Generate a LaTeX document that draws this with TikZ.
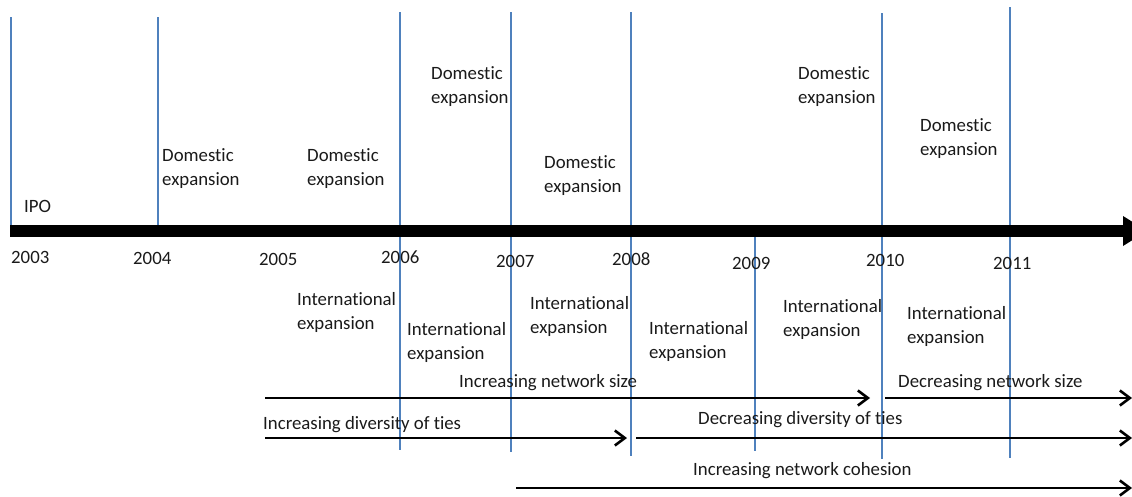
\documentclass[tikz,border=0pt]{standalone}
\usepackage{fontspec}
\setmainfont[Ligatures=NoCommon]{Carlito}
\usetikzlibrary{arrows.meta}
\definecolor{vline}{HTML}{4F81BD}
\definecolor{txt}{HTML}{1A1A1A}
\tikzset{
  lbl/.style={inner sep=0pt, anchor=west, align=left, text=txt, font=\fontsize{18.8}{24}\selectfont},
  yearlbl/.style={lbl},
  vl/.style={draw=vline, line width=1.1pt},
  trend/.style={draw=black, line width=2.6pt, -{Straight Barb[length=10pt,width=15pt,line width=2.6pt]}}
}
\begin{document}
\begin{tikzpicture}[x=1pt,y=-1pt]
\useasboundingbox (0,0) rectangle (1132,496);
\clip (0,0) rectangle (1132,496);
% vertical year lines
\coordinate (t03) at (11,17);   \coordinate (b03) at (11,232);
\coordinate (t04) at (158,17);  \coordinate (b04) at (158,232);
\coordinate (t06) at (400,12);  \coordinate (b06) at (400,450);
\coordinate (t07) at (511,12);  \coordinate (b07) at (511,452);
\coordinate (t08) at (631,12);  \coordinate (b08) at (631,456);
\coordinate (t09) at (755,234); \coordinate (b09) at (755,451);
\coordinate (t10) at (882,13);  \coordinate (b10) at (882,459);
\coordinate (t11) at (1010,7);  \coordinate (b11) at (1010,458);
\foreach \y in {03,04,06,07,08,09,10,11} {\draw[vl] (t\y) -- (b\y);}
% main axis
\coordinate (axs) at (10,231);
\coordinate (axe) at (1125,231);
\draw[line width=12.5pt, black] (axs) -- (axe);
\fill[black] (1123,216) -- (1147,231) -- (1123,246) -- cycle;
% years
\node[yearlbl] (y03) at (11,257) {2003};
\node[yearlbl] (y04) at (133,258) {2004};
\node[yearlbl] (y05) at (259,259) {2005};
\node[yearlbl] (y06) at (381,257) {2006};
\node[yearlbl] (y07) at (496,261) {2007};
\node[yearlbl] (y08) at (612,259) {2008};
\node[yearlbl] (y09) at (732,263) {2009};
\node[yearlbl] (y10) at (866,260) {2010};
\node[yearlbl] (y11) at (993,263) {2011};
% events above
\node[lbl] (ipo) at (24,206) {IPO};
\node[lbl] (d1) at (162,169) {Domestic\\expansion};
\node[lbl] (d2) at (307,169) {Domestic\\expansion};
\node[lbl] (d3) at (431,87)  {Domestic\\expansion};
\node[lbl] (d4) at (544,176) {Domestic\\expansion};
\node[lbl] (d5) at (798,87)  {Domestic\\expansion};
\node[lbl] (d6) at (920,139) {Domestic\\expansion};
% events below
\node[lbl] (i1) at (297,312) {International\\expansion};
\node[lbl] (i2) at (407,342) {International\\expansion};
\node[lbl] (i3) at (530,316) {International\\expansion};
\node[lbl] (i4) at (649,341) {International\\expansion};
\node[lbl] (i5) at (783,319) {International\\expansion};
\node[lbl] (i6) at (907,326) {International\\expansion};
% trends
\coordinate (ns1) at (265,398); \coordinate (ns2) at (870,398);
\coordinate (ns3) at (885,398); \coordinate (ns4) at (1132,398);
\coordinate (dv1) at (265,438); \coordinate (dv2) at (627,438);
\coordinate (dv3) at (636,438); \coordinate (dv4) at (1132,438);
\coordinate (co1) at (516,488); \coordinate (co2) at (1132,488);
\draw[trend] (ns1) -- (ns2);
\draw[trend] (ns3) -- (ns4);
\draw[trend] (dv1) -- (dv2);
\draw[trend] (dv3) -- (dv4);
\draw[trend] (co1) -- (co2);
\node[lbl] (lns1) at (459,383) {Increasing network size};
\node[lbl] (lns2) at (898,383) {Decreasing network size};
\node[lbl] (ldv1) at (263,425) {Increasing diversity of ties};
\node[lbl] (ldv2) at (698,420) {Decreasing diversity of ties};
\node[lbl] (lco)  at (693,471) {Increasing network cohesion};
\end{tikzpicture}
\end{document}
